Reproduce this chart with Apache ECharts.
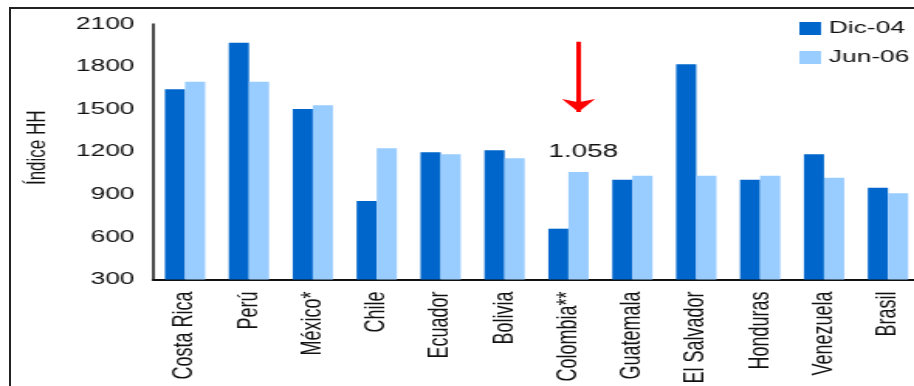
<!DOCTYPE html>
<html>
<head>
<meta charset="utf-8">
<script src="https://cdn.jsdelivr.net/npm/echarts@6/dist/echarts.min.js"></script>
<style>
  html, body { margin: 0; padding: 0; background: #fff; overflow: hidden; }
  #wrap { position: relative; width: 914px; height: 386px; overflow: hidden; }
  #chart { position: absolute; left: 0; top: 0; width: 590px; height: 386px; transform: scaleX(1.5492); transform-origin: 0 0; }
  #frame { position: absolute; left: 9px; top: 7px; width: 920px; height: 400px; border-left: 2px solid #222; border-top: 2px solid #222; pointer-events: none; }
</style>
</head>
<body>
<div id="wrap">
  <div id="chart"></div>
  <div id="frame"></div>
</div>
<script>
const categories = ['Costa Rica', 'Perú', 'México*', 'Chile', 'Ecuador', 'Bolivia', 'Colombia**', 'Guatemala', 'El Salvador', 'Honduras', 'Venezuela', 'Brasil'];
const dic04 = [1640, 1968, 1501, 853, 1196, 1210, 658, 1003, 1816, 1003, 1182, 947];
const jun06 = [1693, 1693, 1527, 1224, 1182, 1154, 1058, 1031, 1031, 1031, 1017, 907];
const seriesNames = ['Dic-04', 'Jun-06'];
const yTicks = { min: 300, max: 2100, interval: 300 };
const annotationCategory = 'Colombia**';
const annotationText = '1.058';
const arrowRange = [1975, 1480];

const FONT = '"Liberation Sans", Arial, sans-serif';
const chart = echarts.init(document.getElementById('chart'), null, { renderer: 'canvas' });

const jun06Data = jun06.map((v, i) => {
  if (categories[i] === annotationCategory) {
    return {
      value: v,
      label: {
        show: true, position: 'top', distance: 11, offset: [3, 0],
        formatter: annotationText, color: '#111', fontSize: 18, fontFamily: FONT
      }
    };
  }
  return v;
});

chart.setOption({
  animation: false,
  backgroundColor: '#fff',
  grid: { left: 98.8, top: 24, width: 495, bottom: 106.5, outerBoundsMode: 'none', containLabel: false },
  legend: {
    orient: 'vertical', left: 511, top: 15, itemWidth: 14, itemHeight: 13, itemGap: 12,
    icon: 'rect',
    textStyle: { color: '#111', fontSize: 17, fontFamily: FONT },
    data: seriesNames
  },
  xAxis: {
    type: 'category', data: categories,
    axisLine: { lineStyle: { color: '#111', width: 2 } },
    axisTick: { show: false },
    axisLabel: { interval: 0, rotate: 90, margin: 12, color: '#111', fontSize: 18, fontFamily: FONT }
  },
  yAxis: {
    type: 'value', min: yTicks.min, max: yTicks.max, interval: yTicks.interval,
    name: 'Índice HH', nameLocation: 'middle', nameGap: 66, nameRotate: 90,
    nameTextStyle: { color: '#111', fontSize: 17, fontFamily: FONT, padding: [0, 0, 0, 8] },
    axisLine: { show: true, lineStyle: { color: '#111', width: 1.5 } },
    axisTick: { show: false },
    splitLine: { show: false },
    axisLabel: { margin: 12, color: '#111', fontSize: 17, fontFamily: FONT, formatter: (v) => String(v) }
  },
  series: [
    {
      name: seriesNames[0], type: 'bar', data: dic04,
      barGap: '0%', barCategoryGap: '37%',
      itemStyle: { color: '#0066CC' }
    },
    {
      name: seriesNames[1], type: 'bar', data: jun06Data,
      barGap: '0%', barCategoryGap: '37%',
      itemStyle: { color: '#99CCFF' },
      markLine: {
        silent: true, symbol: ['none', 'arrow'], symbolSize: [16, 13],
        label: { show: false },
        lineStyle: { color: '#FF0000', width: 3, type: 'solid' },
        data: [[
          { coord: [annotationCategory, arrowRange[0]] },
          { coord: [annotationCategory, arrowRange[1]] }
        ]]
      }
    }
  ]
});
</script>
</body>
</html>
